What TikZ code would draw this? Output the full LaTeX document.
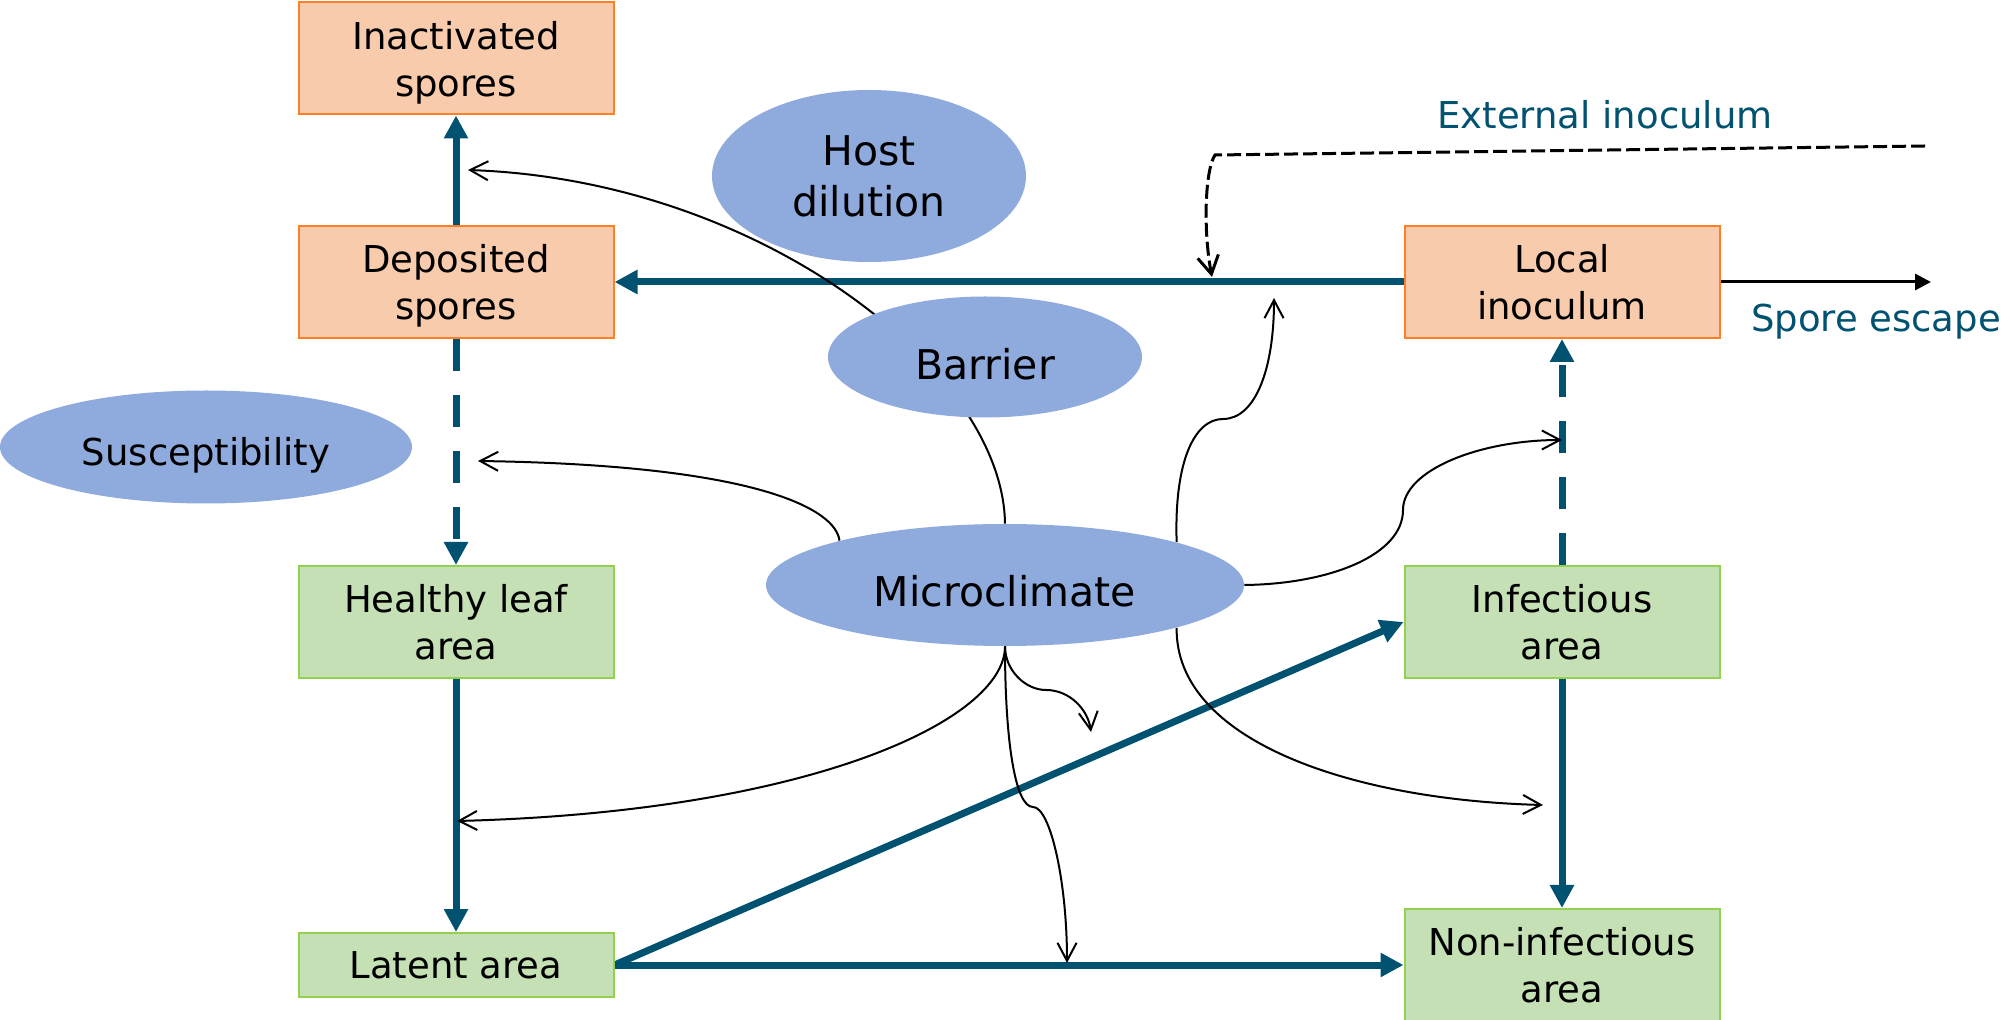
\documentclass[tikz,border=0pt]{standalone}
\usepackage{fontspec}
\setmainfont{DejaVu Sans}
\usetikzlibrary{arrows.meta,shapes.geometric}
\definecolor{flow}{RGB}{0,82,112}
\definecolor{orfill}{RGB}{248,203,173}
\definecolor{ordraw}{RGB}{255,127,39}
\definecolor{grfill}{RGB}{197,224,180}
\definecolor{grdraw}{RGB}{146,208,80}
\definecolor{elfill}{RGB}{143,170,220}
\begin{document}
\begin{tikzpicture}[x=0.5pt,y=-0.5pt,
 box/.style={rectangle, minimum width=157.5pt, minimum height=56pt, inner sep=0pt, line width=1pt, align=center, text depth=0pt, font=\fontsize{18.5}{23.5}\selectfont},
 orbox/.style={box, fill=orfill, draw=ordraw},
 grbox/.style={box, fill=grfill, draw=grdraw},
 oval/.style={ellipse, fill=elfill, inner sep=0pt, align=center, font=\fontsize{20.5}{25.5}\selectfont},
 flowarrow/.style={draw=flow, line width=3.5pt, -{Triangle[length=11.5pt,width=11.5pt]}},
 flowdash/.style={flowarrow, dash pattern=on 16pt off 12pt},
 effect/.style={line width=1pt, -{Straight Barb[length=9pt,width=9.5pt]}},
 lbl/.style={text=flow, font=\fontsize{18.5}{23}\selectfont, anchor=base, inner sep=0pt}
]
\useasboundingbox (0,0) rectangle (2003,1020);

% box geometry (for anchors)
\path
 (456,58.5) node[box] (ina) {}
 (456,282) node[box] (dep) {}
 (1562,282) node[box] (loc) {}
 (456,622) node[box] (hea) {}
 (1562,622) node[box] (inf) {}
 (456,965) node[box, minimum height=32pt] (lat) {}
 (1562,965) node[box] (non) {};

% microclimate geometry (for anchors)
\path (1005,585) node[ellipse, minimum width=239pt, minimum height=61pt, inner sep=0pt] (mic) {};

% target coordinates
\coordinate (tA) at (468,170);
\coordinate (tB) at (478,461);
\coordinate (tC) at (1274,298);
\coordinate (tD) at (1562,440);
\coordinate (tE) at (457,821);
\coordinate (tF) at (1091,732);
\coordinate (tG) at (1067,963);
\coordinate (tH) at (1543,805);
\coordinate (esc) at (1931,282);
\coordinate (ext) at (1925,146);
\coordinate (extin) at (1212,277);

% flow arrows
\draw[flowarrow] (dep.north) -- (ina.south);
\draw[flowarrow] (loc.west) -- (dep.east);
\draw[flowdash] (dep.south) -- (hea.north);
\draw[flowarrow] (hea.south) -- (lat.north);
\draw[flowarrow] (lat.east) -- (inf.west);
\draw[flowarrow] (lat.east) -- (non.west);
\draw[flowarrow] (inf.south) -- (non.north);
\draw[flowdash] (inf.north) -- (loc.south);

% spore escape and external inoculum
\draw[line width=1.5pt, -{Triangle[length=8pt,width=8pt]}] (loc.east) -- (esc);
\draw[line width=1.5pt, dash pattern=on 7pt off 2.5pt, -{Straight Barb[length=9pt,width=10.5pt]}]
  (ext) -- (1215,155) .. controls (1205,170) and (1203,230) .. (extin);

% microclimate effects
\draw[effect] (mic.north) .. controls (1003,370) and (760,180) .. (tA);
\draw[effect] (mic.165.7) .. controls (836,510) and (760,465) .. (tB);
\draw[effect] (mic.14.3) .. controls (1174,460) and (1195,419) .. (1223,419)
  .. controls (1255,419) and (1274,370) .. (tC);
\draw[effect] (mic.east) .. controls (1330,584) and (1403,555) .. (1403,510)
  .. controls (1403,470) and (1480,440) .. (tD);
\draw[effect] (mic.south) .. controls (1005,720) and (810,812) .. (tE);
\draw[effect] (mic.south) .. controls (1005,670) and (1025,690) .. (1046,690)
  .. controls (1070,690) and (1088,710) .. (tF);
\draw[effect] (mic.south) .. controls (1005,740) and (1015,807) .. (1033,807)
  .. controls (1050,807) and (1067,880) .. (tG);
\draw[effect] (mic.-14.2) .. controls (1175,740) and (1350,800) .. (tH);

% ellipses on top
\node[oval, minimum width=157pt, minimum height=86pt] (host) at (869,176) {Host\\dilution};
\node[oval, minimum width=157pt, minimum height=60.5pt, text height=23pt, text depth=0pt] (bar) at (985,357) {Barrier};
\node[oval, minimum width=206pt, minimum height=56.5pt, text height=19pt, text depth=0pt, font=\fontsize{18.5}{23}\selectfont] (sus) at (206,447) {Susceptibility};
\node[oval, minimum width=239pt, minimum height=61pt, text height=22pt, text depth=0pt] (micv) at (1005,585) {Microclimate};

% boxes on top
\node[orbox] (inav) at (ina) {Inactivated\\spores};
\node[orbox] (depv) at (dep) {Deposited\\spores};
\node[orbox] (locv) at (loc) {Local\\inoculum};
\node[grbox] (heav) at (hea) {Healthy leaf\\area};
\node[grbox] (infv) at (inf) {Infectious\\area};
\node[grbox, minimum height=32pt] (latv) at (lat) {Latent area};
\node[grbox] (nonv) at (non) {Non-infectious\\area};

% labels
\node[lbl] (extlbl) at (1605,129) {External inoculum};
\node[lbl] (esclbl) at (1876,332) {Spore escape};
\end{tikzpicture}
\end{document}
